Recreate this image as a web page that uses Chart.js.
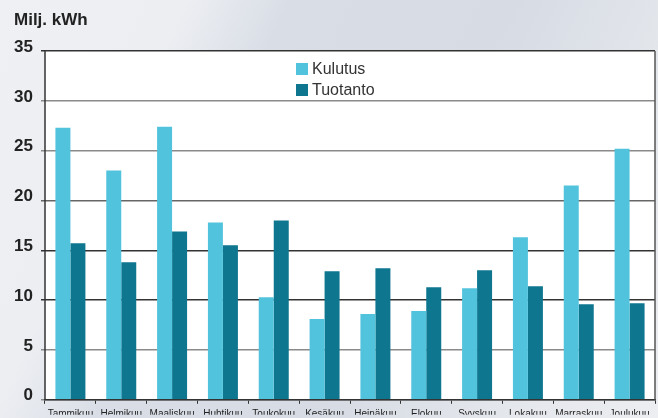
<!DOCTYPE html>
<html><head><meta charset="utf-8">
<script src="https://cdn.jsdelivr.net/npm/chart.js@4/dist/chart.umd.min.js"></script>
<style>
html,body{margin:0;padding:0;}
body{width:658px;height:418px;overflow:hidden;
background:linear-gradient(115deg,#eef0f3 0%,#eceef2 22%,#d9dee6 34%,#d6dbe4 60%,#e3e6eb 80%,#eceef1 100%);}
#wrap{position:relative;width:658px;height:418px;}
#ytitle{position:absolute;left:14px;top:10px;font:bold 17px "Liberation Sans",Arial,sans-serif;color:#222;}
</style></head>
<body><div id="wrap"><div id="ytitle">Milj. kWh</div><canvas id="c" width="658" height="418"></canvas></div>
<script>
const categories = ["Tammikuu","Helmikuu","Maaliskuu","Huhtikuu","Toukokuu","Kesäkuu","Heinäkuu","Elokuu","Syyskuu","Lokakuu","Marraskuu","Joulukuu"];
const kulutus = [27.3, 23.0, 27.4, 17.8, 10.3, 8.1, 8.6, 8.9, 11.2, 16.3, 21.5, 25.2];
const tuotanto = [15.7, 13.8, 16.9, 15.5, 18.0, 12.9, 13.2, 11.3, 13.0, 11.4, 9.6, 9.7];
const yTicks = [0,5,10,15,20,25,30,35];

const chartBg = {
  id:'chartBg',
  beforeDraw(chart){
    const {ctx, chartArea:a} = chart;
    ctx.save(); ctx.fillStyle='#ffffff';
    ctx.fillRect(a.left,a.top,a.right-a.left,a.bottom-a.top);
    ctx.restore();
  },
  afterDraw(chart){
    const {ctx, chartArea:a} = chart;
    ctx.save();
    ctx.strokeStyle='#555'; ctx.lineWidth=1.5;
    ctx.beginPath(); ctx.moveTo(a.right,a.top); ctx.lineTo(a.right,a.bottom); ctx.stroke();
    ctx.strokeStyle='#333';
    ctx.beginPath(); ctx.moveTo(a.left,a.top); ctx.lineTo(a.left,a.bottom); ctx.stroke();
    // legend
    const ds = chart.data.datasets;
    ctx.font='16px "Liberation Sans",Arial,sans-serif';
    ctx.textBaseline='middle';
    ds.forEach((d,i)=>{
      const y = 63 + i*21;
      ctx.fillStyle=d.backgroundColor;
      ctx.fillRect(296,y,12,12);
      ctx.fillStyle='#333';
      ctx.fillText(d.label,312,y+6.5);
    });
    ctx.restore();
  }
};

new Chart(document.getElementById('c'),{
  type:'bar',
  data:{labels:categories,datasets:[
    {label:'Kulutus',data:kulutus,backgroundColor:'#52c3dc'},
    {label:'Tuotanto',data:tuotanto,backgroundColor:'#0e768f'}
  ]},
  options:{
    responsive:false,animation:false,
    layout:{padding:{top:51,right:3,left:0,bottom:0}},
    categoryPercentage:0.59,barPercentage:1.0,
    plugins:{legend:{display:false},tooltip:{enabled:false}},
    scales:{
      x:{
        grid:{offset:true,drawOnChartArea:false,drawTicks:true,tickLength:4,color:'#333',lineWidth:1},
        border:{display:true,color:'#333',width:1.5},
        ticks:{font:{family:'"Liberation Sans",Arial,sans-serif',size:10},color:'#222',padding:4,maxRotation:0,autoSkip:false},
        afterFit(s){s.height=15;}
      },
      y:{
        min:0,max:35,
        afterBuildTicks(s){s.ticks=yTicks.map(v=>({value:v}));},
        grid:{tickLength:4,lineWidth:1.5,
          color(ctx){const v=ctx.tick&&ctx.tick.value;
            if(v===10||v===15||v===35) return '#333';
            if(v===20) return '#666';
            return '#8a8a8a';}},
        border:{display:false},
        ticks:{font:{family:'"Liberation Sans",Arial,sans-serif',size:17,weight:'bold'},color:'#222',padding:8,labelOffset:-4},
        afterFit(s){s.width=45;}
      }
    }
  },
  plugins:[chartBg]
});
</script></body></html>
